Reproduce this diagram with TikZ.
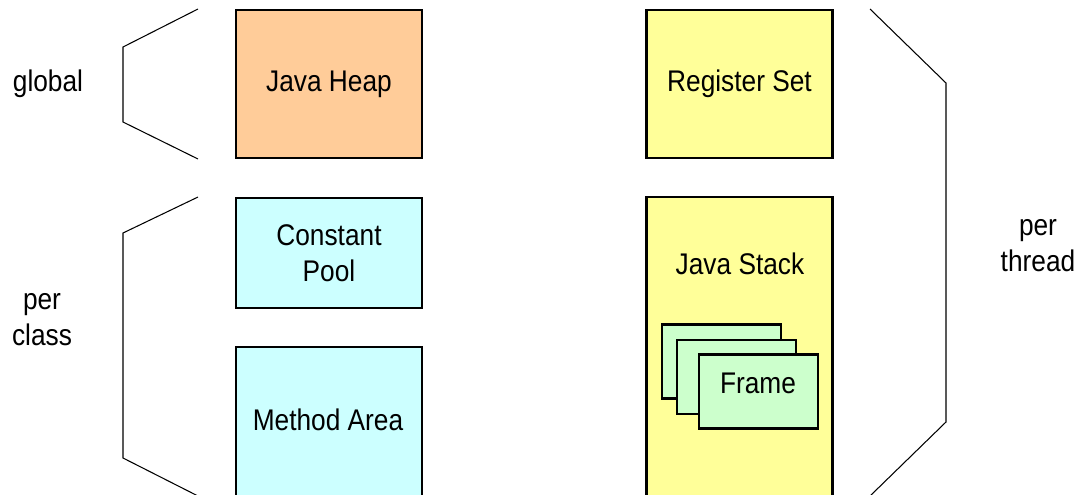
\documentclass[tikz,border=0pt]{standalone}
\usepackage{fontspec}
\setmainfont{Liberation Sans}[FakeStretch=0.88]
\usepackage{tikz}
\usetikzlibrary{positioning}
\definecolor{heapcol}{HTML}{FFCC99}
\definecolor{regcol}{HTML}{FFFF99}
\definecolor{classcol}{HTML}{CCFFFF}
\definecolor{framecol}{HTML}{CCFFCC}
\tikzset{
  area/.style={draw, line width=1.6pt, minimum width=3.72cm, align=center,
    font=\fontsize{17}{20.5}\selectfont},
  framebox/.style={draw, fill=framecol, line width=1.6pt, minimum width=2.38cm,
    minimum height=1.48cm, font=\fontsize{17}{20.5}\selectfont},
  brace/.style={line width=0.6pt},
  side/.style={align=center, font=\fontsize{17}{20.5}\selectfont}
}

\begin{document}
\begin{tikzpicture}[x=0.02cm,y=-0.02cm]
    \useasboundingbox (0,0) rectangle (1085,494);
    \clip (0,0) rectangle (1085,494);

    \node (heap) [area, fill=heapcol, minimum height=2.96cm] at (329,84) {Java Heap};
    \node (reg) [area, fill=regcol, minimum height=2.96cm] at (739.5,84) {Register Set};
    \node (pool) [area, fill=classcol, minimum height=2.2cm] at (329,253) {Constant\\Pool};
    \node (method) [area, fill=classcol, minimum height=3.5cm] at (329,434.5) {};
    \node (methodtxt) at (328,420) [side] {Method Area};
    \node (stack) [area, fill=regcol, minimum height=6.7cm] at (739.5,364.5) {};
    \node (stacktxt) at (740,264) [side] {Java Stack};

    \node (fa) [framebox] at (721.5,361.5) {};
    \node (fb) [framebox] at (736.5,377) {};
    \node (fc) [framebox] at (758.5,391.5) {};
    \node (frametxt) at (758,383) [side] {Frame};

    \draw[brace] (198,9) -- (123,47) -- (123,122) -- (198,159);
    \draw[brace] (198,197) -- (123,233) -- (123,458) -- (198,496);
    \draw[brace] (870,9) -- (946,83) -- (946,422) -- (870,496);

    \node (global) at (48,84) [side] {global};
    \node (perclass) at (42,320) [side] {per\\class};
    \node (perthread) at (1038,246) [side] {per\\thread};

\end{tikzpicture}
\end{document}
